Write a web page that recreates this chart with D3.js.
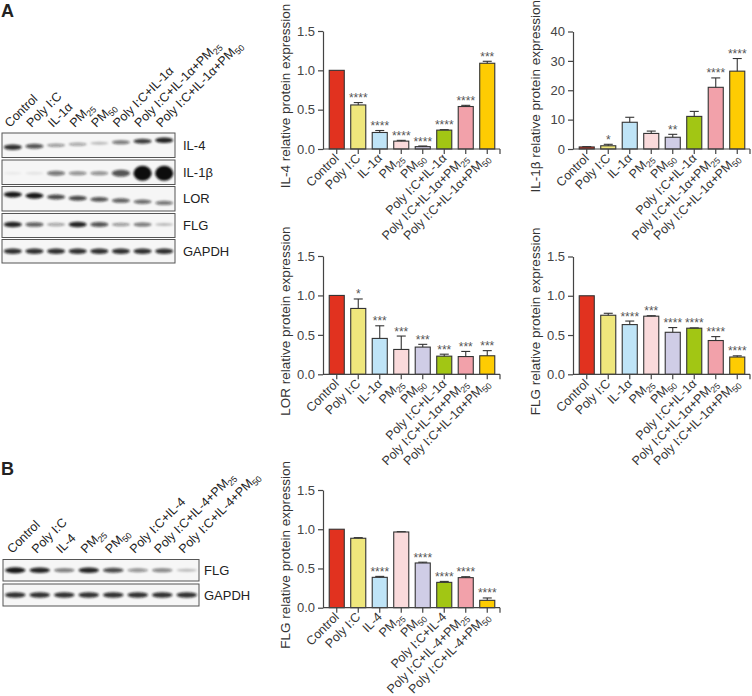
<!DOCTYPE html>
<html><head><meta charset="utf-8">
<script src="https://cdn.jsdelivr.net/npm/d3@7"></script>
<style>body{margin:0;background:#fff}svg{display:block}</style>
</head><body>
<script>
// ---------- DATA ----------
const categoriesA = ["Control","Poly I:C","IL-1α","PM25","PM50","Poly I:C+IL-1α","Poly I:C+IL-1α+PM25","Poly I:C+IL-1α+PM50"];
const categoriesB = ["Control","Poly I:C","IL-4","PM25","PM50","Poly I:C+IL-4","Poly I:C+IL-4+PM25","Poly I:C+IL-4+PM50"];

const il4Values = [1.0,0.56,0.21,0.10,0.03,0.24,0.54,1.09];
const il4Err    = [0,0.03,0.025,0.01,0.008,0.006,0.015,0.025];
const il4Sig    = ["","****","****","****","****","****","****","***"];

const il1bValues = [0.7,1.1,9.1,5.3,4.0,11.1,21.0,26.5];
const il1bErr    = [0.1,0.5,1.7,0.8,1.0,1.7,3.2,4.3];
const il1bSig    = ["","*","","","**","","****","****"];

const lorValues = [1.0,0.835,0.455,0.315,0.345,0.23,0.225,0.235];
const lorErr    = [0,0.12,0.16,0.17,0.035,0.025,0.065,0.065];
const lorSig    = ["","*","***","***","***","***","***","***"];

const flgAValues = [1.0,0.752,0.633,0.74,0.535,0.587,0.43,0.22];
const flgAErr    = [0,0.025,0.045,0.006,0.06,0.004,0.05,0.015];
const flgASig    = ["","","****","***","****","****","****","****"];

const flgBValues = [1.0,0.885,0.387,0.965,0.57,0.323,0.383,0.094];
const flgBErr    = [0,0.008,0.012,0.004,0.01,0.012,0.012,0.03];
const flgBSig    = ["","","****","","****","****","****","****"];

const ticksRel  = [0,0.5,1.0,1.5];
const ticksIL1b = [0,10,20,30,40];

// western blot band intensities (relative darkness per lane)
const blotA_IL4   = [0.85,0.7,0.4,0.35,0.25,0.55,0.8,0.9];
const blotA_IL1b  = [0.05,0.08,0.55,0.45,0.45,0.7,1.0,1.0];
const blotA_LOR   = [0.95,0.95,0.75,0.75,0.7,0.65,0.6,0.55];
const blotA_FLG   = [0.9,0.65,0.35,0.9,0.7,0.4,0.55,0.25];
const blotA_GAPDH = [0.85,0.85,0.85,0.85,0.85,0.85,0.85,0.85];
const blotB_FLG   = [0.95,0.9,0.55,0.9,0.75,0.45,0.5,0.25];
const blotB_GAPDH = [0.85,0.85,0.85,0.85,0.85,0.85,0.85,0.85];

const barColors = ["#e1321f","#efe77c","#bfe4f7","#fadadb","#d0cde6","#a2c614","#f2a1aa","#fecc02"];

// ---------- RENDER ----------
const FONT = "'Liberation Sans', Arial, Helvetica, sans-serif";
const svg = d3.select("body").append("svg").attr("width",752).attr("height",696)
  .style("font-family",FONT);
svg.append("rect").attr("width",752).attr("height",696).attr("fill","#fff");

const defs = svg.append("defs");
defs.append("filter").attr("id","blur").attr("x","-50%").attr("y","-100%").attr("width","200%").attr("height","300%")
  .append("feGaussianBlur").attr("stdDeviation",1.0);

function labelText(sel, label){
  const m = label.match(/^(.*PM)(25|50)$/);
  if (m){
    sel.append("tspan").text(m[1]);
    sel.append("tspan").attr("font-size","0.7em").attr("dy","0.35em").text(m[2]);
  } else sel.text(label);
}

function barChart(o){
  const g = svg.append("g");
  const x = d3.scaleBand().domain(o.cats).range([o.x0+3,o.x1-2]).paddingInner(0.3).paddingOuter(0.15);
  const y = d3.scaleLinear().domain([0,o.max]).range([o.yb,o.yt]);
  const data = o.cats.map((c,i)=>({c,v:o.values[i],e:o.errs[i],s:o.sigs[i],col:barColors[i]}));

  g.selectAll("rect.bar").data(data).join("rect")
    .attr("x",d=>x(d.c)).attr("width",x.bandwidth())
    .attr("y",d=>y(d.v)).attr("height",d=>y(0)-y(d.v))
    .attr("fill",d=>d.col).attr("stroke","#333").attr("stroke-width",1.1);
  const eb = g.selectAll("g.err").data(data.filter(d=>d.e>0)).join("g");
  eb.append("line").attr("x1",d=>x(d.c)+x.bandwidth()/2).attr("x2",d=>x(d.c)+x.bandwidth()/2)
    .attr("y1",d=>y(d.v)).attr("y2",d=>y(d.v+d.e)).attr("stroke","#333").attr("stroke-width",1.1);
  eb.append("line").attr("x1",d=>x(d.c)+x.bandwidth()/2-4.5).attr("x2",d=>x(d.c)+x.bandwidth()/2+4.5)
    .attr("y1",d=>y(d.v+d.e)).attr("y2",d=>y(d.v+d.e)).attr("stroke","#333").attr("stroke-width",1.1);
  g.selectAll("text.sig").data(data).join("text")
    .attr("x",d=>x(d.c)+x.bandwidth()/2).attr("y",d=>y(d.v+d.e)-0.5)
    .attr("text-anchor","middle").attr("font-size",12).attr("fill","#555").text(d=>d.s);

  const ya = g.append("g").attr("transform",`translate(${o.x0},0)`)
    .call(d3.axisLeft(y).tickValues(o.ticks).tickFormat(o.fmt).tickSize(5).tickSizeOuter(0).tickPadding(3));
  ya.select(".domain").attr("stroke","#444").attr("stroke-width",1.2);
  ya.selectAll(".tick line").attr("stroke","#444").attr("stroke-width",1.2);
  ya.selectAll(".tick text").attr("font-size",13).attr("fill","#444").style("font-family",FONT);

  g.append("line").attr("x1",o.x0).attr("x2",o.x1).attr("y1",o.yb).attr("y2",o.yb)
    .attr("stroke","#444").attr("stroke-width",1.2);
  const tickXs = o.cats.map(c=>x(c)+x.bandwidth()/2).concat([o.x1]);
  g.selectAll("line.xt").data(tickXs).join("line")
    .attr("x1",d=>d).attr("x2",d=>d).attr("y1",o.yb).attr("y2",o.yb+5)
    .attr("stroke","#444").attr("stroke-width",1.2);
  g.selectAll("text.xl").data(o.cats).join("text")
    .attr("transform",c=>`translate(${x(c)+x.bandwidth()/2+3},${o.yb+10}) rotate(-45)`)
    .attr("text-anchor","end").attr("font-size",12.5).attr("fill","#333")
    .each(function(c){ labelText(d3.select(this), c); });

  g.append("text").attr("transform",`translate(${o.x0-33},${(o.yt+o.yb)/2+6}) rotate(-90)`)
    .attr("text-anchor","middle").attr("font-size",13.5).attr("fill","#333").text(o.ylabel);
}

const fmt1 = d3.format(".1f");
barChart({x0:323,x1:500,yt:31,yb:149,max:1.5,ticks:ticksRel,fmt:fmt1,cats:categoriesA,values:il4Values,errs:il4Err,sigs:il4Sig,ylabel:"IL-4 relative protein expression"});
barChart({x0:573,x1:750,yt:31.5,yb:149,max:40,ticks:ticksIL1b,fmt:d3.format("d"),cats:categoriesA,values:il1bValues,errs:il1bErr,sigs:il1bSig,ylabel:"IL-1β relative protein expression"});
barChart({x0:323,x1:500,yt:256,yb:374.3,max:1.5,ticks:ticksRel,fmt:fmt1,cats:categoriesA,values:lorValues,errs:lorErr,sigs:lorSig,ylabel:"LOR relative protein expression"});
barChart({x0:573,x1:750,yt:256.5,yb:374.3,max:1.5,ticks:ticksRel,fmt:fmt1,cats:categoriesA,values:flgAValues,errs:flgAErr,sigs:flgASig,ylabel:"FLG relative protein expression"});
barChart({x0:323,x1:500,yt:490,yb:607.7,max:1.5,ticks:ticksRel,fmt:fmt1,cats:categoriesB,values:flgBValues,errs:flgBErr,sigs:flgBSig,ylabel:"FLG relative protein expression"});

// ---------- BLOTS ----------
function blot(o){
  const g = svg.append("g");
  const lane = d3.scaleBand().domain(o.cats).range([o.x0,o.x1]);
  g.append("rect").attr("x",o.x0).attr("y",o.y0).attr("width",o.x1-o.x0).attr("height",o.y1-o.y0)
    .attr("fill","#f6f6f6").attr("stroke","#555").attr("stroke-width",1);
  const cy = (o.y0+o.y1)/2 + (o.shift||0);
  g.selectAll("ellipse").data(o.cats.map((c,i)=>({c,i,v:o.vals[i]}))).join("ellipse")
    .attr("cx",d=>lane(d.c)+lane.bandwidth()/2)
    .attr("cy",d=>cy + (o.tilt||0)*(d.i-3.5))
    .attr("rx",lane.bandwidth()*0.42)
    .attr("ry",d=>o.thick ? 1.4+6*Math.pow(d.v,3) : 1.0+2.0*d.v)
    .attr("fill","#111").attr("fill-opacity",d=>d.v).attr("filter","url(#blur)");
  g.append("text").attr("x",o.lx).attr("y",(o.y0+o.y1)/2+4.5).attr("font-size",13).attr("fill","#222").text(o.name);
  return lane;
}
function laneLabels(lane, y){
  svg.append("g").selectAll("text").data(lane.domain()).join("text")
    .attr("transform",c=>`translate(${lane(c)+lane.bandwidth()/2-3},${y}) rotate(-45)`)
    .attr("font-size",12.5).attr("fill","#222")
    .each(function(c){ labelText(d3.select(this), c); });
}

const laneA = blot({x0:2,x1:175,y0:133,y1:157.5,cats:categoriesA,vals:blotA_IL4,name:"IL-4",lx:183,tilt:-1,shift:-1.5});
blot({x0:2,x1:175,y0:160,y1:184.5,cats:categoriesA,vals:blotA_IL1b,name:"IL-1β",lx:183,thick:true,shift:1});
blot({x0:2,x1:175,y0:186.5,y1:211,cats:categoriesA,vals:blotA_LOR,name:"LOR",lx:183,tilt:1.2});
blot({x0:2,x1:175,y0:213.5,y1:237.5,cats:categoriesA,vals:blotA_FLG,name:"FLG",lx:183,shift:-1});
blot({x0:2,x1:175,y0:239.5,y1:263,cats:categoriesA,vals:blotA_GAPDH,name:"GAPDH",lx:183});
laneLabels(laneA,128);

const laneB = blot({x0:3,x1:199,y0:559.5,y1:581,cats:categoriesB,vals:blotB_FLG,name:"FLG",lx:204});
blot({x0:3,x1:199,y0:584,y1:606,cats:categoriesB,vals:blotB_GAPDH,name:"GAPDH",lx:204});
laneLabels(laneB,554);

svg.append("text").attr("x",1).attr("y",17).attr("font-size",18).attr("font-weight","bold").attr("fill","#222").text("A");
svg.append("text").attr("x",1).attr("y",475).attr("font-size",18).attr("font-weight","bold").attr("fill","#222").text("B");
</script>
</body></html>
